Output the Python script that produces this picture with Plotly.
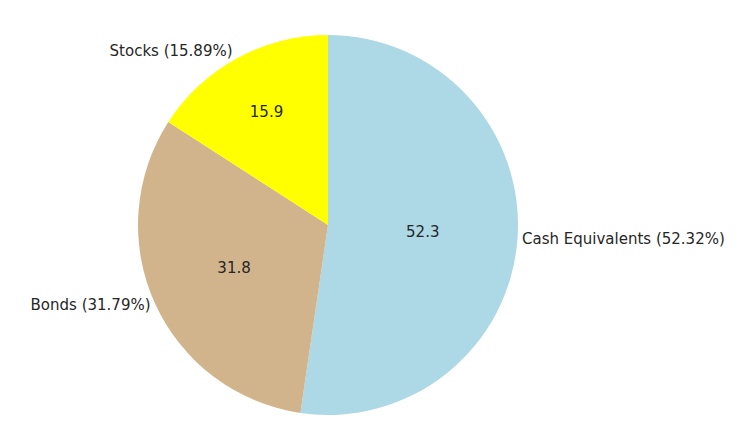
import plotly.graph_objects as go

labels = ["Cash Equivalents", "Bonds", "Stocks"]
values = [52.32, 31.79, 15.89]
colors = ["#ADD8E6", "#D2B48C", "#FFFF00"]

inner_text = ["%.1f" % v for v in values]
outer_text = ["%s (%.2f%%)" % (l, v) for l, v in zip(labels, values)]

dom = dict(x=[0.1757, 0.6892], y=[0.062, 0.938])

fig = go.Figure()
fig.add_trace(go.Pie(
    labels=labels, values=values, sort=False, direction="clockwise", rotation=0,
    marker=dict(colors=colors), text=inner_text, textinfo="text",
    textposition="inside", insidetextorientation="horizontal",
    textfont=dict(size=15, color="#262626"), domain=dom, showlegend=False,
    hoverinfo="skip",
))
fig.add_trace(go.Pie(
    labels=labels, values=values, sort=False, direction="clockwise", rotation=0,
    marker=dict(colors=["rgba(0,0,0,0)"] * 3), text=outer_text, textinfo="text",
    textposition="outside", textfont=dict(size=15, color="#262626"),
    domain=dom, showlegend=False, hoverinfo="skip",
))
fig.update_layout(
    width=740, height=434, margin=dict(l=0, r=0, t=0, b=0),
    paper_bgcolor="white", font=dict(family="DejaVu Sans"),
)
fig.write_html("out.html")
